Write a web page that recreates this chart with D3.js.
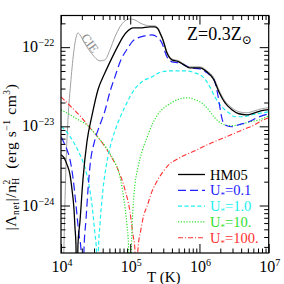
<!DOCTYPE html>
<html>
<head>
<meta charset="utf-8">
<script src="https://cdn.jsdelivr.net/npm/d3@7"></script>
<style>
  body { margin: 0; background: #fff; }
  svg text { font-family: "Liberation Serif", "DejaVu Serif", serif; }
</style>
</head>
<body>
<div id="chart"></div>
<script>
// curves as [log10 T, log10 |Lambda_net|/nH^2]
let cie = [
    [4.036, -24.8], [4.058, -23.926], [4.072, -23.484], [4.101, -22.917], [4.144, -22.412],
    [4.188, -22.034], [4.216, -21.883], [4.245, -21.820], [4.274, -21.845], [4.346, -21.958],
    [4.447, -22.085], [4.563, -22.173], [4.635, -22.160], [4.707, -22.034], [4.779, -21.870],
    [4.851, -21.744], [4.924, -21.669], [4.996, -21.643], [5.068, -21.656], [5.140, -21.694],
    [5.212, -21.719], [5.284, -21.731], [5.356, -21.731], [5.400, -21.757], [5.429, -21.807],
    [5.472, -21.895], [5.530, -22.059], [5.602, -22.148], [5.703, -22.173], [5.775, -22.211],
    [5.861, -22.248], [6.006, -22.248], [6.107, -22.299], [6.208, -22.387], [6.280, -22.538],
    [6.367, -22.677], [6.468, -22.765], [6.569, -22.816], [6.684, -22.829], [6.799, -22.803],
    [6.900, -22.778], [7.0, -22.765]
]

let hm05 = [
    [4.00, -23.358], [4.043, -23.396], [4.087, -23.484], [4.130, -23.610], [4.159, -23.800],
    [4.188, -24.052], [4.202, -24.279], [4.216, -24.493], [4.231, -25.3], [4.245, -24.493],
    [4.274, -24.203], [4.317, -23.673], [4.375, -23.194], [4.447, -22.866], [4.534, -22.538],
    [4.635, -22.324], [4.736, -22.135], [4.823, -21.984], [4.895, -21.870], [4.967, -21.794],
    [5.039, -21.757], [5.140, -21.757], [5.284, -21.744], [5.356, -21.744], [5.400, -21.769],
    [5.429, -21.820], [5.472, -21.908], [5.530, -22.072], [5.602, -22.160], [5.703, -22.185],
    [5.775, -22.223], [5.861, -22.261], [6.006, -22.261], [6.107, -22.311], [6.208, -22.412],
    [6.280, -22.564], [6.367, -22.702], [6.468, -22.790], [6.569, -22.841], [6.684, -22.854],
    [6.799, -22.829], [6.900, -22.803], [7.0, -22.790]
]

let u01 = [
    [4.00, -23.131], [4.043, -23.207], [4.087, -23.295], [4.130, -23.421], [4.173, -23.648],
    [4.216, -23.989], [4.260, -24.367], [4.289, -24.556], [4.310, -25.3], [4.332, -24.556],
    [4.361, -24.178], [4.390, -23.800], [4.418, -23.509], [4.491, -23.169], [4.563, -22.980],
    [4.635, -22.803], [4.707, -22.564], [4.779, -22.375], [4.866, -22.160], [4.967, -22.009],
    [5.039, -21.920], [5.111, -21.883], [5.212, -21.857], [5.313, -21.845], [5.385, -21.870],
    [5.457, -21.946], [5.530, -22.122], [5.602, -22.185], [5.703, -22.198], [5.775, -22.223],
    [5.861, -22.261], [6.006, -22.274], [6.107, -22.324], [6.179, -22.375], [6.222, -22.438],
    [6.265, -22.601], [6.294, -22.753], [6.323, -22.892], [6.352, -22.967], [6.395, -22.992],
    [6.468, -23.005], [6.569, -22.980], [6.713, -22.942], [6.828, -22.892], [7.0, -22.841]
]

let u1 = [
    [4.00, -23.005], [4.058, -23.043], [4.130, -23.131], [4.202, -23.232], [4.274, -23.358],
    [4.346, -23.522], [4.404, -23.737], [4.447, -23.989], [4.491, -24.367], [4.512, -24.556],
    [4.527, -25.3], [4.541, -24.556], [4.563, -24.241], [4.606, -23.800], [4.649, -23.522],
    [4.707, -23.270], [4.779, -23.056], [4.851, -22.892], [4.924, -22.753], [4.996, -22.627],
    [5.068, -22.526], [5.169, -22.438], [5.313, -22.375], [5.457, -22.311], [5.602, -22.299],
    [5.789, -22.299], [5.934, -22.324], [6.063, -22.387], [6.150, -22.501], [6.222, -22.627],
    [6.323, -22.753], [6.424, -22.829], [6.511, -22.879], [6.612, -22.879], [6.756, -22.854],
    [7.0, -22.816]
]

let u10 = [
    [4.00, -22.791], [4.130, -22.854], [4.274, -22.929], [4.390, -22.992], [4.491, -23.093],
    [4.563, -23.169], [4.635, -23.245], [4.707, -23.346], [4.779, -23.459], [4.823, -23.547],
    [4.866, -23.699], [4.909, -23.926], [4.952, -24.241], [4.974, -24.493], [4.996, -25.3],
    [5.018, -24.493], [5.039, -24.052], [5.068, -23.737], [5.111, -23.522], [5.169, -23.320],
    [5.241, -23.144], [5.328, -22.955], [5.429, -22.816], [5.573, -22.715], [5.717, -22.652],
    [5.833, -22.639], [5.934, -22.664], [6.006, -22.690], [6.107, -22.765], [6.222, -22.892],
    [6.323, -22.967], [6.439, -22.992], [6.583, -22.980], [6.727, -22.942], [6.872, -22.917],
    [7.0, -22.866]
]

let u100 = [
    [4.00, -22.627], [4.130, -22.740], [4.274, -22.866], [4.418, -23.018], [4.563, -23.169],
    [4.707, -23.358], [4.823, -23.547], [4.924, -23.800], [4.996, -24.077], [5.039, -24.367],
    [5.068, -24.556], [5.090, -25.3], [5.111, -24.556], [5.154, -24.304], [5.198, -24.115],
    [5.241, -24.014], [5.313, -23.825], [5.400, -23.673], [5.544, -23.497], [5.717, -23.396],
    [5.934, -23.308], [6.150, -23.219], [6.424, -23.119], [6.627, -23.043], [6.799, -22.980],
    [6.900, -22.929], [7.0, -22.892]
]

let legendNames = ["HM05", "0.1", "1.0", "10.", "100."]
let xMajor = [4, 5, 6, 7]
let yMajor = [-24, -23, -22]

let width = 284, height = 284
let margin = {top: 15.5, right: 15.3, bottom: 31, left: 61}
let w = width - margin.left - margin.right
let h = height - margin.top - margin.bottom

let svg = d3.select("#chart").append("svg")
    .attr("width", width).attr("height", height)
let g = svg.append("g").attr("transform", `translate(${margin.left},${margin.top})`)

let x = d3.scaleLog().domain([1e4, 1e7]).range([0, w])
let y = d3.scaleLog().domain([Math.pow(10, -24.6), Math.pow(10, -21.6)]).range([h, 0])

g.append("defs").append("clipPath").attr("id", "clip")
    .append("rect").attr("width", w).attr("height", h)

let line = d3.line()
    .x(d => x(Math.pow(10, d[0])))
    .y(d => y(Math.pow(10, d[1])))
    .curve(d3.curveMonotoneX)

let series = [
    {data: cie, color: "#a0a0a0", width: 1, dash: null},
    {data: u100, color: "#ff3030", width: 1.1, dash: "5,2,1,2"},
    {data: u10, color: "#30e030", width: 1.2, dash: "1.2,1.6"},
    {data: u1, color: "#20f0f0", width: 1.2, dash: "4,2.5"},
    {data: u01, color: "#2020ff", width: 1.2, dash: "8,4"},
    {data: hm05, color: "#000", width: 1.3, dash: null}
]

let plot = g.append("g").attr("clip-path", "url(#clip)")
for (let s of series) {
    plot.append("path")
        .attr("d", line(s.data))
        .attr("fill", "none")
        .attr("stroke", s.color)
        .attr("stroke-width", s.width)
        .attr("stroke-dasharray", s.dash)
}

// ticks on all four sides, pointing in
let xMinor = [], yMinor = []
for (let e = 4; e < 7; e++) {
    for (let k = 2; k < 10; k++) xMinor.push(k * Math.pow(10, e))
}
for (let e = -25; e < -21; e++) {
    for (let k = 2; k < 10; k++) {
        let v = k * Math.pow(10, e)
        if (v >= y.domain()[0] && v <= y.domain()[1]) yMinor.push(v)
    }
}
let xMaj = xMajor.map(e => Math.pow(10, e))
let yMaj = yMajor.map(e => Math.pow(10, e))

function ticks(axis, vals, size, tr) {
    let a = g.append("g").attr("transform", tr)
        .call(axis.tickValues(vals).tickSize(size).tickSizeOuter(0).tickFormat(""))
    a.select(".domain").remove()
    a.selectAll("line").attr("stroke", "#000").attr("stroke-width", 1)
}
ticks(d3.axisBottom(x), xMaj, -9, `translate(0,${h})`)
ticks(d3.axisBottom(x), xMinor, -4.5, `translate(0,${h})`)
ticks(d3.axisTop(x), xMaj, -9, "translate(0,0)")
ticks(d3.axisTop(x), xMinor, -4.5, "translate(0,0)")
ticks(d3.axisLeft(y), yMaj, -9, "translate(0,0)")
ticks(d3.axisLeft(y), yMinor, -4.5, "translate(0,0)")
ticks(d3.axisRight(y), yMaj, -9, `translate(${w},0)`)
ticks(d3.axisRight(y), yMinor, -4.5, `translate(${w},0)`)

g.append("rect").attr("width", w).attr("height", h)
    .attr("fill", "none").attr("stroke", "#000").attr("stroke-width", 1.2)

// tick labels
for (let e of xMajor) {
    let t = g.append("text")
        .attr("x", x(Math.pow(10, e)) + 1)
        .attr("y", h + 19)
        .attr("text-anchor", "middle")
        .attr("font-size", 16)
    t.append("tspan").text("10")
    t.append("tspan").attr("dy", -6).attr("font-size", 10).text(e)
}
for (let e of yMajor) {
    let t = g.append("text")
        .attr("x", 22 - margin.left)
        .attr("y", y(Math.pow(10, e)) + 5)
        .attr("text-anchor", "start")
        .attr("font-size", 16)
    t.append("tspan").text("10")
    t.append("tspan").attr("dy", -6).attr("dx", 0.5).attr("font-size", 10).text("\u2212" + (-e))
}

// axis titles
g.append("text")
    .attr("x", w / 2 - 1).attr("y", h + 29)
    .attr("text-anchor", "middle").attr("font-size", 15)
    .text("T (K)")

let yl = svg.append("text")
    .attr("transform", "translate(16,157) rotate(-90)")
    .attr("text-anchor", "middle").attr("font-size", 15.5)
    .attr("letter-spacing", 0.6)
yl.append("tspan").text("|\u039B")
yl.append("tspan").attr("dy", 3).attr("font-size", 9.5).text("net")
yl.append("tspan").attr("dy", -3).text("|/n")
yl.append("tspan").attr("dy", -6).attr("font-size", 9.5).text("2")
yl.append("tspan").attr("dy", 9).attr("dx", -5.5).attr("font-size", 9.5).text("H")
yl.append("tspan").attr("dy", -3).text("\u2002(erg s")
yl.append("tspan").attr("dy", -6).attr("font-size", 9.5).text("\u22121")
yl.append("tspan").attr("dy", 6).text(" cm")
yl.append("tspan").attr("dy", -6).attr("font-size", 9.5).text("3")
yl.append("tspan").attr("dy", 6).text(")")

// metallicity label
let zl = g.append("text")
    .attr("x", 126).attr("y", 24)
    .attr("font-size", 18)
zl.append("tspan").text("Z=0.3Z")
zl.append("tspan").attr("dy", 4).attr("font-size", 12).text("\u2299")

// CIE label along the grey curve
g.append("text")
    .attr("transform", `translate(${x(Math.pow(10, 4.37))},${y(Math.pow(10, -21.98))}) rotate(54)`)
    .attr("font-size", 12.5).attr("fill", "#888")
    .attr("text-anchor", "middle")
    .text("CIE")

// legend
let legendSeries = [series[5], series[4], series[3], series[2], series[1]]
let leg = g.append("g").attr("transform", "translate(117,159)")
legendSeries.forEach((s, i) => {
    let row = leg.append("g").attr("transform", `translate(0,${i * 15.8})`)
    row.append("line")
        .attr("x1", 0).attr("x2", 27)
        .attr("stroke", s.color).attr("stroke-width", s.width)
        .attr("stroke-dasharray", s.dash)
    let t = row.append("text").attr("x", 32).attr("y", 5)
        .attr("font-size", 14.5).attr("fill", s.color)
    if (i === 0) {
        t.text(legendNames[i])
    } else {
        t.append("tspan").text("U")
        t.append("tspan").attr("dy", 3).attr("font-size", 9).text("*")
        t.append("tspan").attr("dy", -3).text("=" + legendNames[i])
    }
})
</script>
</body>
</html>
